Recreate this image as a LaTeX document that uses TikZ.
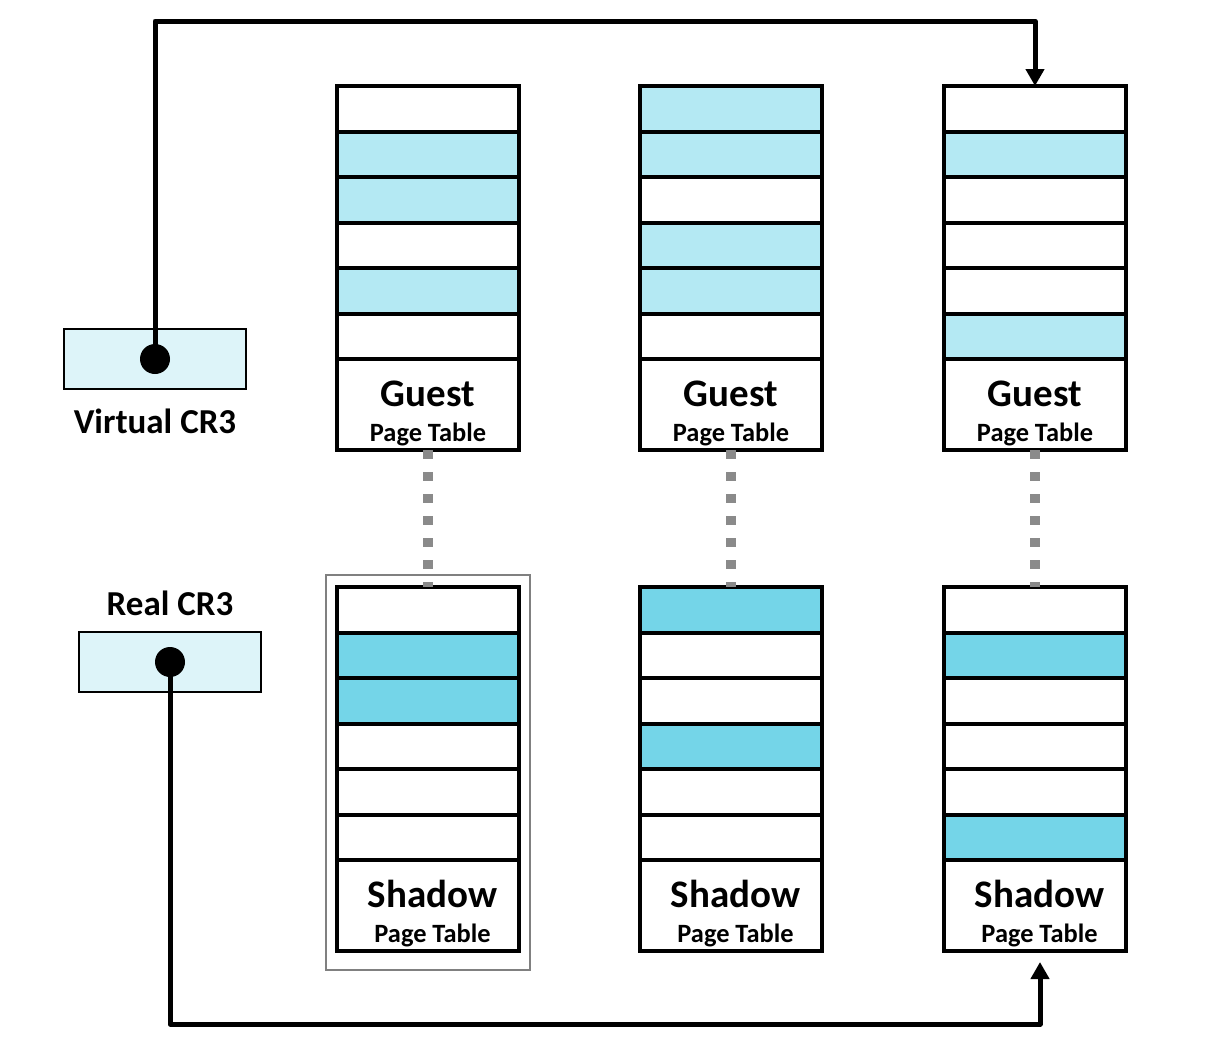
\documentclass[tikz,border=0pt]{standalone}
\usepackage{fontspec}
\setmainfont{Carlito}
\usetikzlibrary{positioning,arrows.meta}

\definecolor{guestblue}{HTML}{B4E9F3}
\definecolor{shadowblue}{HTML}{74D5E8}
\definecolor{crfill}{HTML}{DDF4F9}
\definecolor{pairgray}{HTML}{8A8A8A}

\newcommand{\tablabel}[2][0pt]{\rule{0pt}{21.5pt}\hspace*{#1}{\fontsize{19.5}{20}\selectfont #2}\\\hspace*{#1}Page Table}

\begin{document}
\begin{tikzpicture}[
  x=0.5pt, y=-0.5pt,
  node distance=0pt,
  cell/.style={draw, rectangle, line width=2pt, minimum width=91pt, minimum height=22.75pt, inner sep=0pt, outer sep=0pt},
  gcell/.style={cell, fill=guestblue},
  scell/.style={cell, fill=shadowblue},
  lab/.style={cell, minimum height=45.5pt, align=center, font=\fontsize{13.2}{17.5}\selectfont\bfseries},
  crbox/.style={draw, rectangle, line width=1.3pt, fill=crfill, minimum width=91pt, minimum height=30pt, inner sep=0pt},
  cdot/.style={circle, fill=black, minimum size=15pt, inner sep=0pt},
  crlab/.style={font=\fontsize{17.5}{20}\selectfont\bfseries},
  link/.style={line width=2.5pt, line join=round, -{Triangle[length=8.5pt,width=9pt]}},
  pairline/.style={pairgray, line width=5pt, dash pattern=on 4.5pt off 6.5pt},
  >=Stealth
]
\useasboundingbox (0,0) rectangle (1226,1045);

% selected shadow table
\draw[gray, line width=1pt] (326,575) rectangle (530,970);

% guest page tables
\node[cell] (g1r1) at (428,108.75) {};
\node[gcell, below=of g1r1] (g1r2) {};
\node[gcell, below=of g1r2] (g1r3) {};
\node[cell, below=of g1r3] (g1r4) {};
\node[gcell, below=of g1r4] (g1r5) {};
\node[cell, below=of g1r5] (g1r6) {};
\node[lab, below=of g1r6] (g1lab) {\tablabel{Guest}};

\node[gcell] (g2r1) at (731,108.75) {};
\node[gcell, below=of g2r1] (g2r2) {};
\node[cell, below=of g2r2] (g2r3) {};
\node[gcell, below=of g2r3] (g2r4) {};
\node[gcell, below=of g2r4] (g2r5) {};
\node[cell, below=of g2r5] (g2r6) {};
\node[lab, below=of g2r6] (g2lab) {\tablabel{Guest}};

\node[cell] (g3r1) at (1035,108.75) {};
\node[gcell, below=of g3r1] (g3r2) {};
\node[cell, below=of g3r2] (g3r3) {};
\node[cell, below=of g3r3] (g3r4) {};
\node[cell, below=of g3r4] (g3r5) {};
\node[gcell, below=of g3r5] (g3r6) {};
\node[lab, below=of g3r6] (g3lab) {\tablabel{Guest}};

% shadow page tables
\node[cell] (s1r1) at (428,609.75) {};
\node[scell, below=of s1r1] (s1r2) {};
\node[scell, below=of s1r2] (s1r3) {};
\node[cell, below=of s1r3] (s1r4) {};
\node[cell, below=of s1r4] (s1r5) {};
\node[cell, below=of s1r5] (s1r6) {};
\node[lab, below=of s1r6] (s1lab) {\tablabel[4.5pt]{Shadow}};

\node[scell] (s2r1) at (731,609.75) {};
\node[cell, below=of s2r1] (s2r2) {};
\node[cell, below=of s2r2] (s2r3) {};
\node[scell, below=of s2r3] (s2r4) {};
\node[cell, below=of s2r4] (s2r5) {};
\node[cell, below=of s2r5] (s2r6) {};
\node[lab, below=of s2r6] (s2lab) {\tablabel[4.5pt]{Shadow}};

\node[cell] (s3r1) at (1035,609.75) {};
\node[scell, below=of s3r1] (s3r2) {};
\node[cell, below=of s3r2] (s3r3) {};
\node[cell, below=of s3r3] (s3r4) {};
\node[cell, below=of s3r4] (s3r5) {};
\node[scell, below=of s3r5] (s3r6) {};
\node[lab, below=of s3r6] (s3lab) {\tablabel[4.5pt]{Shadow}};

% guest to shadow
\draw[pairline] (g1lab.south) -- (s1r1.north);
\draw[pairline] (g2lab.south) -- (s2r1.north);
\draw[pairline] (g3lab.south) -- (s3r1.north);

% CR3 registers
\node[crbox] (vcr) at (155,359) {};
\node[cdot] (vdot) at (vcr.center) {};
\node[crlab, below=6pt of vcr] (vlab) {Virtual CR3};
\node[crbox] (rcr) at (170,662) {};
\node[cdot] (rdot) at (rcr.center) {};
\node[crlab, above=4pt of rcr] (rlab) {Real CR3};

\coordinate (vturn) at (155,21);
\coordinate (rturn) at (170,1024);
\coordinate (rend) at (1040,962);
\draw[link] (vdot.center) -- (vturn) -| (g3r1.north);
\draw[link] (rdot.center) -- (rturn) -| (rend);
\end{tikzpicture}
\end{document}
